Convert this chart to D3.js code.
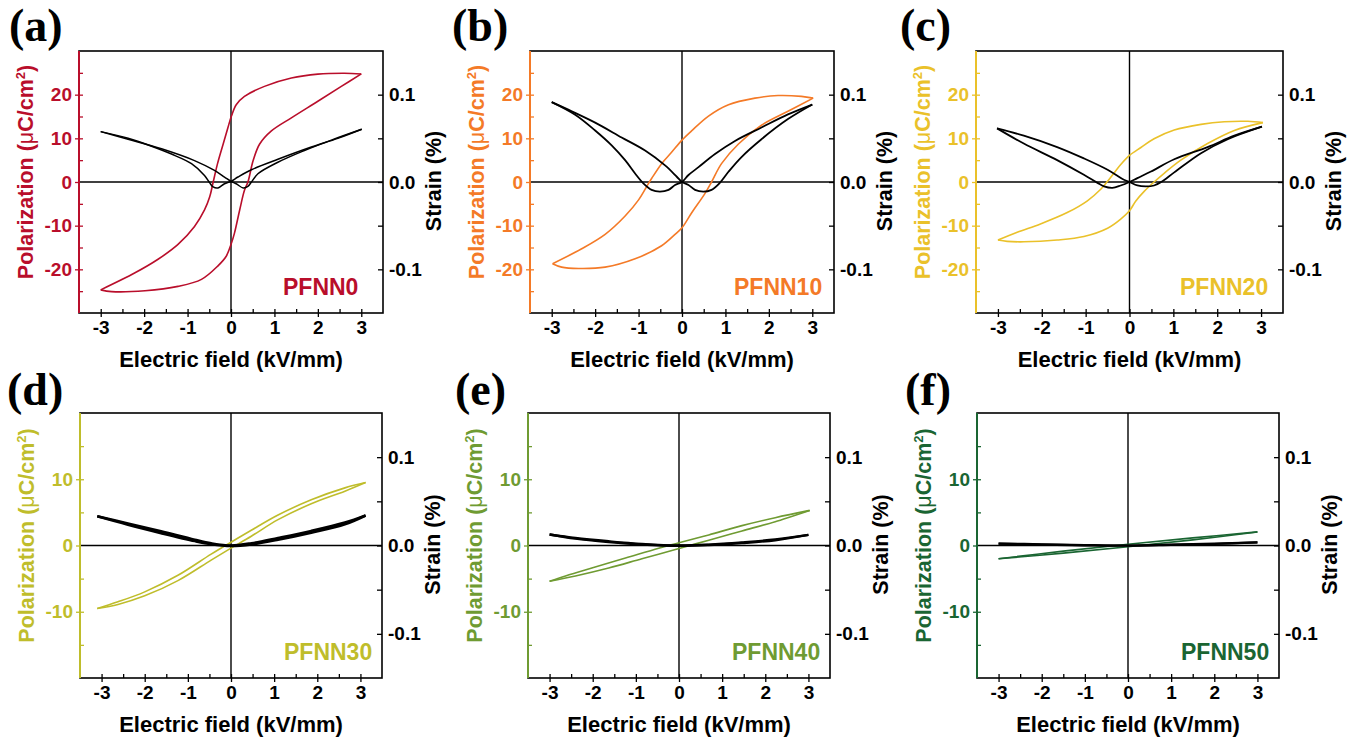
<!DOCTYPE html>
<html>
<head>
<meta charset="utf-8">
<script src="https://cdn.jsdelivr.net/npm/d3@7"></script>
<style>
    body { margin: 0; background: #fff; }
    svg { display: block; font-family: "Liberation Sans", Arial, sans-serif; font-weight: bold; }
</style>
</head>
<body>
<script>
//sample names, panel letters and colours
var samples = ["PFNN0", "PFNN10", "PFNN20", "PFNN30", "PFNN40", "PFNN50"];
var letters = ["(a)", "(b)", "(c)", "(d)", "(e)", "(f)"];
var colors = ["#b90e2b", "#f47a27", "#eac12a", "#bfbd2b", "#6f9b32", "#1a6532"];

//tick values
var fieldTicks = [-3, -2, -1, 0, 1, 2, 3];
var polTicksTop = [-20, -10, 0, 10, 20];
var polTicksBottom = [-10, 0, 10];
var strainTicks = [-0.1, 0, 0.1];

//P-E loops [E (kV/mm), P (uC/cm2)]; Down = field +3 -> -3, Up = -3 -> +3
var pol0Down = [[3,24.75],[2.61,24.9],[2.0,24.7],[1.39,23.8],[0.77,21.9],[0.31,19.6],[0.12,17.7],[0.01,15.1],[-0.07,12.5],[-0.18,8.7],[-0.31,4.2],[-0.41,0],[-0.49,-3.4],[-0.61,-6.4],[-0.84,-10.2],[-1.22,-14.3],[-1.68,-17.7],[-2.21,-20.8],[-3,-24.7]];
var pol0Up = [[-3,-24.7],[-2.75,-25.1],[-1.98,-24.9],[-1.22,-23.9],[-0.68,-22.3],[-0.30,-19.2],[-0.11,-17],[0,-14.3],[0.08,-11.7],[0.20,-6.4],[0.31,-1.9],[0.39,0],[0.51,4.9],[0.66,8.7],[0.93,11.7],[1.39,14.7],[2.0,18.5],[2.54,21.9],[3,24.75]];
var pol10Down = [[3.02,19.2],[2.75,19.6],[2.21,19.8],[1.68,19.2],[1.07,17.7],[0.61,15.1],[0.22,11.7],[0,9.6],[-0.24,6.8],[-0.47,4.2],[-0.70,0.8],[-0.77,-0.3],[-1.0,-4.1],[-1.31,-7.8],[-1.77,-12],[-2.31,-15.3],[-2.98,-18.7]];
var pol10Up = [[-2.98,-18.7],[-2.77,-19.5],[-2.38,-19.8],[-1.77,-19.5],[-1.08,-17.6],[-0.47,-14.6],[-0.16,-12],[0,-10.5],[0.22,-7.1],[0.53,-2.6],[0.68,0],[0.91,4.2],[1.3,8.7],[1.83,13.0],[2.44,16.2],[3.02,19.2]];
var pol20Down = [[3.04,13.6],[2.7,13.9],[2.16,13.8],[1.63,13.2],[1.02,11.9],[0.56,9.9],[0.26,7.9],[0,6.1],[-0.2,4.0],[-0.35,2.1],[-0.5,0.15],[-0.65,-1.6],[-0.96,-4.3],[-1.42,-7.0],[-2.03,-9.6],[-2.56,-11.5],[-3,-13.3]];
var pol20Up = [[-3,-13.3],[-2.79,-13.6],[-2.41,-13.7],[-1.65,-13.3],[-1.04,-12.5],[-0.5,-10.6],[-0.2,-8.5],[0,-6.6],[0.14,-4.4],[0.34,-2.1],[0.56,0],[0.79,2.0],[1.17,5.0],[1.78,8.8],[2.39,11.8],[3.04,13.6]];
var pol30Down = [[3.12,9.5],[2.64,8.7],[1.86,6.9],[1.09,4.6],[0.47,2.3],[0,0.5],[-0.46,-1.3],[-1.23,-4.5],[-2.0,-7.0],[-2.62,-8.5],[-3.1,-9.5]];
var pol30Up = [[-3.1,-9.5],[-2.62,-8.9],[-2.0,-7.6],[-1.23,-5.3],[-0.46,-2.2],[0,-0.4],[0.47,1.4],[1.09,3.9],[1.86,6.3],[2.64,8.2],[3.12,9.5]];
var pol40Down = [[3.03,5.3],[2.23,4.2],[1.46,3.0],[0.69,1.6],[0,0.4],[-0.47,-0.4],[-1.24,-1.9],[-2.02,-3.4],[-2.63,-4.6],[-3,-5.4]];
var pol40Up = [[-3,-5.4],[-2.4,-4.6],[-1.63,-3.4],[-0.86,-2.0],[0,-0.45],[0.69,0.8],[1.46,2.2],[2.23,3.6],[3.03,5.3]];
var pol50Down = [[3,2.05],[1.5,1.15],[0,0.2],[-1.5,-0.85],[-3,-2.0]];
var pol50Up = [[-3,-2.0],[-1.5,-1.15],[0,-0.2],[1.5,0.85],[3,2.05]];

//strain butterflies [E (kV/mm), S (%)]
var str0Down = [[3.01,0.0604],[2.46,0.050],[1.85,0.040],[1.08,0.026],[0.47,0.014],[0.16,0.0057],[0,0.0008],[-0.15,-0.002],[-0.3,-0.0068],[-0.41,-0.0057],[-0.49,-0.001],[-0.61,0.0075],[-0.91,0.021],[-1.37,0.032],[-1.83,0.041],[-2.37,0.050],[-3,0.0577]];
var str0Up = [[-3,0.0577],[-2.37,0.049],[-1.6,0.038],[-0.84,0.0245],[-0.38,0.0132],[-0.15,0.0057],[0,0.0008],[0.12,-0.002],[0.28,-0.0068],[0.39,-0.005],[0.47,0],[0.62,0.0094],[1.08,0.0226],[1.69,0.036],[2.31,0.048],[3.01,0.0604]];
var str10Down = [[3,0.0887],[2.44,0.0774],[1.83,0.0624],[1.22,0.047],[0.76,0.032],[0.38,0.017],[0.15,0.008],[0,0],[-0.16,-0.0034],[-0.31,-0.009],[-0.51,-0.011],[-0.70,-0.009],[-0.89,-0.0015],[-1.08,0.0098],[-1.31,0.025],[-1.62,0.042],[-2.0,0.059],[-2.46,0.077],[-3,0.0914]];
var str10Up = [[-3,0.0914],[-2.54,0.081],[-2.0,0.068],[-1.39,0.051],[-0.85,0.036],[-0.39,0.019],[-0.12,0.006],[0,0],[0.15,-0.0034],[0.3,-0.009],[0.49,-0.011],[0.68,-0.009],[0.87,-0.001],[1.07,0.0117],[1.37,0.0286],[1.83,0.049],[2.44,0.072],[3,0.0887]];
var str20Down = [[3.02,0.0633],[2.39,0.053],[1.78,0.040],[1.02,0.026],[0.49,0.012],[0.18,0.0045],[0,0],[-0.2,-0.004],[-0.39,-0.0067],[-0.58,-0.005],[-0.73,-0.001],[-1.04,0.0082],[-1.65,0.025],[-2.41,0.044],[-3.02,0.0614]];
var str20Up = [[-3.02,0.0614],[-2.41,0.053],[-1.65,0.040],[-1.04,0.027],[-0.5,0.014],[-0.16,0.0034],[0,0],[0.18,-0.004],[0.37,-0.005],[0.56,-0.004],[0.72,0],[1.02,0.011],[1.63,0.033],[2.24,0.049],[3.02,0.0633]];
var str30Down = [[3.12,0.034],[2.64,0.026],[1.86,0.0165],[1.09,0.0085],[0.47,0.0025],[0,0],[-0.46,0.0025],[-0.84,0.0065],[-1.62,0.016],[-2.39,0.025],[-3.1,0.033]];
var str30Up = [[-3.1,0.033],[-2.39,0.0235],[-1.62,0.014],[-0.84,0.005],[-0.46,0.0015],[0,-0.0005],[0.47,0.0012],[1.09,0.0065],[1.86,0.0145],[2.64,0.024],[3.12,0.034]];
var str40Down = [[3,0.012],[2.23,0.0068],[1.46,0.0035],[0.69,0.001],[0,0],[-0.86,0.0018],[-1.63,0.0048],[-2.4,0.0085],[-3,0.0125]];
var str40Up = [[-3,0.0125],[-2.4,0.0078],[-1.63,0.004],[-0.86,0.0012],[0,-0.0003],[0.69,0.0006],[1.46,0.0028],[2.23,0.006],[3,0.012]];
var str50Down = [[3,0.0035],[2,0.0022],[1,0.001],[0,0],[-1,0.0005],[-2,0.0014],[-3,0.0022]];
var str50Up = [[-3,0.0022],[-2,0.001],[-1,0.0002],[0,-0.0003],[1,0.0006],[2,0.0017],[3,0.0035]];

var polLoops = [[pol0Down, pol0Up], [pol10Down, pol10Up], [pol20Down, pol20Up], [pol30Down, pol30Up], [pol40Down, pol40Up], [pol50Down, pol50Up]];
var strainLoops = [[str0Down, str0Up], [str10Down, str10Up], [str20Down, str20Up], [str30Down, str30Up], [str40Down, str40Up], [str50Down, str50Up]];

//plot frames [left, top, width, height] and panel letter positions
var frames = [[79,51,304,262],[530,51,304,262],[976,51,307,262],[80,413,302,265],[528,413,302,265],[977,413,302,265]];
var letterPos = [[9,41],[452,41],[900,41],[7,405],[455,405],[905,405]];
var strainWidth = [1.5, 1.8, 1.8, 2.6, 2.4, 2.2];

var svg = d3.select("body").append("svg")
    .attr("width", 1361)
    .attr("height", 743);

samples.forEach(function(name, i){ drawPanel(i); });

function drawPanel(i){
    var f = frames[i], w = f[2], h = f[3], col = colors[i];
    var top = i < 3;
    var pMax = top ? 30 : 20;

    var g = svg.append("g").attr("transform", "translate(" + f[0] + "," + f[1] + ")");

    var x = d3.scaleLinear().domain([-3.5, 3.5]).range([0, w]);
    var y = d3.scaleLinear().domain([-pMax, pMax]).range([h, 0]);
    var yS = d3.scaleLinear().domain([-0.15, 0.15]).range([h, 0]);

    //zero lines
    g.append("line").attr("x1", 0).attr("x2", w).attr("y1", y(0)).attr("y2", y(0))
        .attr("stroke", "#000").attr("stroke-width", 1.4);
    g.append("line").attr("x1", x(0)).attr("x2", x(0)).attr("y1", 0).attr("y2", h)
        .attr("stroke", "#000").attr("stroke-width", 1.4);

    var polLine = d3.line().x(function(d){ return x(d[0]); }).y(function(d){ return y(d[1]); })
        .curve(d3.curveCatmullRom.alpha(0.5));
    var strainLine = d3.line().x(function(d){ return x(d[0]); }).y(function(d){ return yS(d[1]); })
        .curve(d3.curveCatmullRom.alpha(0.5));

    g.selectAll(".pol").data(polLoops[i]).enter().append("path")
        .attr("class", "pol")
        .attr("d", polLine)
        .attr("fill", "none")
        .attr("stroke", col)
        .attr("stroke-width", 1.6);

    g.selectAll(".strain").data(strainLoops[i]).enter().append("path")
        .attr("class", "strain")
        .attr("d", strainLine)
        .attr("fill", "none")
        .attr("stroke", "#000")
        .attr("stroke-width", strainWidth[i]);

    //bottom axis: majors outward with labels, all ticks inward
    g.append("g").attr("transform", "translate(0," + h + ")")
        .call(d3.axisBottom(x).tickValues(fieldTicks).tickSize(4).tickPadding(4)
            .tickFormat(function(d){ return String(d); }));
    g.append("g").attr("transform", "translate(0," + h + ")")
        .call(d3.axisBottom(x).tickValues(d3.range(-3, 3.01, 0.5)).tickSize(-4).tickFormat(""));

    //left axis (coloured)
    var polTicks = top ? polTicksTop : polTicksBottom;
    var minor = top ? [-25,-20,-15,-10,-5,5,10,15,20,25] : [-15,-10,-5,5,10,15];
    var yAxis = g.append("g")
        .call(d3.axisLeft(y).tickValues(polTicks).tickSize(4).tickPadding(3)
            .tickFormat(function(d){ return String(d); }));
    var yAxisIn = g.append("g")
        .call(d3.axisLeft(y).tickValues(minor).tickSize(-4).tickFormat(""));

    //right axis (strain), ticks inward
    g.append("g").attr("transform", "translate(" + w + ",0)")
        .call(d3.axisRight(yS).tickValues([-0.1, -0.05, 0, 0.05, 0.1]).tickSize(-5).tickPadding(6)
            .tickFormat(function(d){ return strainTicks.indexOf(d) >= 0 ? d.toFixed(1) : ""; }));

    g.selectAll(".domain").remove();
    g.selectAll(".tick text").attr("font-size", 19).attr("font-family", "Liberation Sans, Arial, sans-serif")
        .attr("font-weight", "bold").attr("fill", "#000");
    g.selectAll(".tick line").attr("stroke", "#000").attr("stroke-width", 1.3);
    yAxis.selectAll(".tick text").attr("fill", col);
    yAxis.selectAll(".tick line").attr("stroke", col);
    yAxisIn.selectAll(".tick line").attr("stroke", col);

    //frame
    g.append("rect").attr("width", w).attr("height", h)
        .attr("fill", "none").attr("stroke", "#000").attr("stroke-width", 1.6);
    g.append("line").attr("x1", 0).attr("x2", 0).attr("y1", 0).attr("y2", h)
        .attr("stroke", col).attr("stroke-width", 2);

    //axis titles
    g.append("text")
        .attr("x", w / 2).attr("y", h + 54)
        .attr("text-anchor", "middle")
        .attr("font-size", 22)
        .text("Electric field (kV/mm)");

    var pt = g.append("text")
        .attr("transform", "translate(-46," + (h / 2 - 10) + ") rotate(-90)")
        .attr("text-anchor", "middle")
        .attr("font-size", 21.5)
        .attr("fill", col);
    pt.append("tspan").text("Polarization (");
    pt.append("tspan").attr("font-weight", "normal").text("\u03bc");
    pt.append("tspan").text("C/cm");
    pt.append("tspan").attr("font-size", 13).attr("dy", -8).text("2");
    pt.append("tspan").attr("dy", 8).text(")");

    g.append("text")
        .attr("transform", "translate(" + (w + 58) + "," + (h / 2 - 1) + ") rotate(-90)")
        .attr("text-anchor", "middle")
        .attr("font-size", 21.5)
        .text("Strain (%)");

    //sample name
    g.append("text")
        .attr("x", 204).attr("y", h - 18)
        .attr("font-size", 23)
        .attr("fill", col)
        .text(samples[i]);

    //panel letter
    svg.append("text")
        .attr("x", letterPos[i][0]).attr("y", letterPos[i][1])
        .attr("font-family", "Liberation Serif, Times New Roman, serif")
        .attr("font-weight", "bold")
        .attr("font-size", 46)
        .text(letters[i]);
}
</script>
</body>
</html>
